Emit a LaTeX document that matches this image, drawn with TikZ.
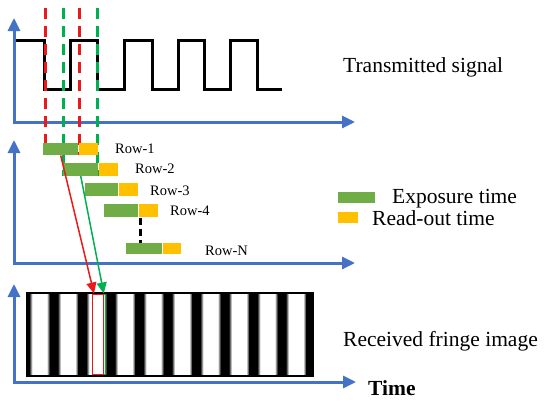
\documentclass[tikz,border=0pt]{standalone}
\usepackage{fontspec}
\setmainfont{Liberation Serif}
\usetikzlibrary{arrows.meta,positioning}
\definecolor{axisblue}{RGB}{68,114,196}
\definecolor{expgreen}{RGB}{112,173,71}
\definecolor{rdyellow}{RGB}{255,192,0}
\definecolor{markred}{RGB}{235,25,25}
\definecolor{markgreen}{RGB}{0,176,80}
\pgfdeclarehorizontalshading{fringe}{100bp}{color(0bp)=(black); color(25bp)=(black!90); color(32bp)=(white); color(68bp)=(white); color(75bp)=(black!90); color(100bp)=(black)}
\tikzstyle{axes} = [draw=axisblue, line width=3pt, {Triangle[width=12pt,length=13pt]}-{Triangle[width=12pt,length=13pt]}]
\tikzstyle{sig} = [draw, line width=3pt]
\tikzstyle{cutline} = [line width=3pt, dash pattern=on 11pt off 7pt]
\tikzstyle{expo} = [rectangle, fill=expgreen, minimum width=35pt, minimum height=12.5pt, inner sep=0pt, anchor=west]
\tikzstyle{rdout} = [rectangle, fill=rdyellow, minimum width=19pt, minimum height=12.5pt, inner sep=0pt, anchor=west]
\tikzstyle{rowlbl} = [font=\fontsize{14.5}{16}\selectfont, inner sep=0pt, anchor=base west]
\tikzstyle{biglbl} = [font=\fontsize{21.5}{24}\selectfont, inner sep=0pt, anchor=base west]
\tikzstyle{link} = [draw, line width=1.5pt, -{Triangle[width=10pt,length=11pt]}]

\begin{document}
\begin{tikzpicture}[x=1pt, y=-1pt]
\useasboundingbox (0,0) rectangle (550,407);

% axes
\draw[axes] (14,18) -- (14,122) -- (355,122);
\draw[axes] (14,140) -- (14,263) -- (355,263);
\draw[axes] (14,284) -- (14,382) -- (356,382);

% transmitted signal
\path[sig] (16,40) -| (44,89) -| (70,40) -| (97,89) -| (124,40) -| (152,89) -| (178,40) -| (204,89) -| (230,40) -| (257,89) -- (282,89);

% sampling instants
\draw[cutline, markred] (45,8) -- (45,155);
\draw[cutline, markred] (79,8) -- (79,155);
\draw[cutline, markgreen] (63,8) -- (63,176);
\draw[cutline, markgreen] (97,8) -- (97,176);

% rolling shutter rows
\node [expo] (e1) at (43,149) {};
\node [rdout] (r1) at (e1.east) {};
\node [expo] (e2) at (63,169.5) {};
\node [rdout] (r2) at (e2.east) {};
\node [expo, minimum width=33pt] (e3) at (85,189.5) {};
\node [rdout] (r3) at (e3.east) {};
\node [expo, minimum width=34pt] (e4) at (104,210.5) {};
\node [rdout] (r4) at (e4.east) {};
\node [expo, minimum width=36pt, minimum height=11.5pt] (eN) at (126,248.5) {};
\node [rdout, minimum width=18pt, minimum height=11.5pt] (rN) at (eN.east) {};
\draw[cutline, black, dash pattern=on 7pt off 4pt] (r4.south west) ++(2,1) coordinate (dtop) -- (dtop |- eN.north);

\node [rowlbl] (l1) at (115,153) {Row-1};
\node [rowlbl] (l2) at (135,173) {Row-2};
\node [rowlbl] (l3) at (150,195) {Row-3};
\node [rowlbl] (l4) at (170,215) {Row-4};
\node [rowlbl] (lN) at (205,255) {Row-N};

% received fringe image
\fill[black] (26,292) rectangle (314,377);
\foreach \c in {0,...,9}
  \shade[shading=fringe] ({29.5+28.5*\c},294) rectangle +(20,80);
\node [draw=markgreen, line width=0.8pt, minimum width=13pt, minimum height=80pt, inner sep=0pt, anchor=north west] (grncol) at (92,293.5) {};
\node [draw=markred, line width=0.8pt, minimum width=11pt, minimum height=80pt, inner sep=0pt, anchor=north west] (redcol) at (92,293.5) {};

\path[link, markred] (e1.south) -- ([xshift=2pt]redcol.north west);
\path[link, markgreen] (e2.south) -- ([xshift=-2pt]grncol.north east);

% legend and captions
\node [expo, minimum width=37pt, minimum height=11pt] (legexp) at (338,197.5) {};
\node [rdout, minimum width=20pt, minimum height=11pt] (legrd) at (338,217.5) {};
\node [biglbl] (exptxt) at (392,203) {Exposure time};
\node [biglbl] (rdtxt) at (372,225) {Read-out time};
\node [biglbl] (sigtxt) at (343,72) {Transmitted signal};
\node [biglbl] (imgtxt) at (343,346) {Received fringe image};
\node [biglbl, font=\fontsize{21.5}{24}\selectfont\bfseries] (timetxt) at (368,395) {Time};
\end{tikzpicture}
\end{document}
